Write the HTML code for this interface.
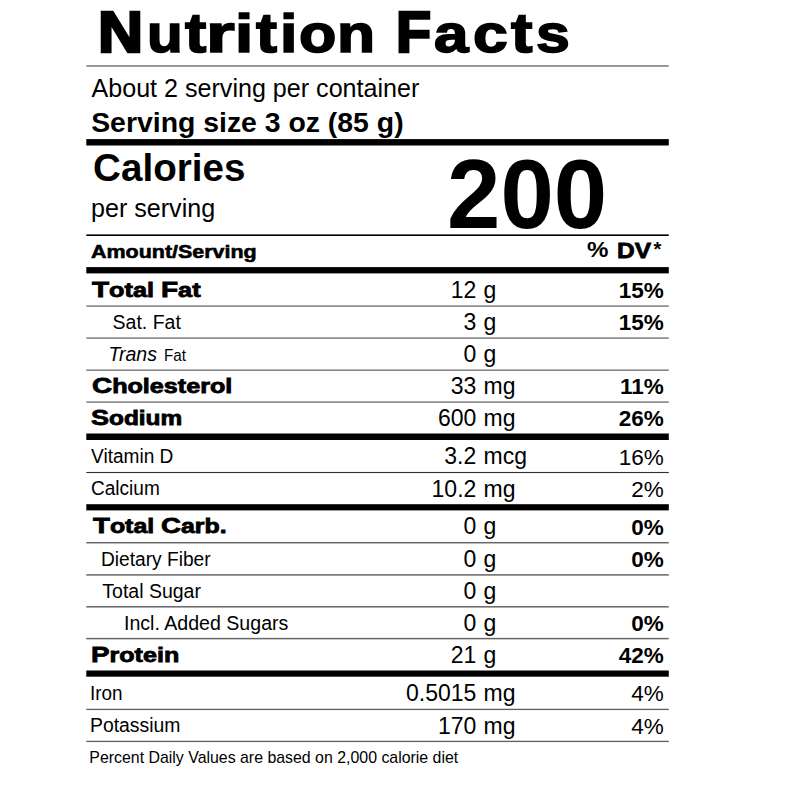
<!DOCTYPE html>
<html><head><meta charset="utf-8"><style>
html,body{margin:0;padding:0;background:#fff;}
body{width:800px;height:800px;position:relative;overflow:hidden;font-family:"Liberation Sans",sans-serif;color:#000;}
.t{position:absolute;line-height:1;white-space:nowrap;}
svg{position:absolute;left:0;top:0;}
</style></head><body>
<svg width="800" height="800" viewBox="0 0 800 800"><rect x="86.3" y="65.1" width="582.5" height="1.7" fill="#878787"/><rect x="86.3" y="139.1" width="582.5" height="6.4" fill="#000"/><rect x="86.3" y="234.4" width="582.5" height="1.6" fill="#000"/><rect x="86.3" y="267.1" width="582.5" height="6.3" fill="#000"/><rect x="86.3" y="305.3" width="582.5" height="1.6" fill="#868686"/><rect x="86.3" y="337.3" width="582.5" height="1.6" fill="#868686"/><rect x="86.3" y="369.4" width="582.5" height="1.6" fill="#868686"/><rect x="86.3" y="401.3" width="582.5" height="1.6" fill="#868686"/><rect x="86.3" y="433.5" width="582.5" height="6.5" fill="#000"/><rect x="86.3" y="471.95" width="582.5" height="1.1" fill="#2e2e2e"/><rect x="86.3" y="504.2" width="582.5" height="6.2" fill="#000"/><rect x="86.3" y="541.95" width="582.5" height="1.5" fill="#666"/><rect x="86.3" y="574.15" width="582.5" height="1.5" fill="#666"/><rect x="86.3" y="606.05" width="582.5" height="1.5" fill="#666"/><rect x="86.3" y="637.85" width="582.5" height="1.5" fill="#666"/><rect x="86.3" y="670.5" width="582.5" height="6.2" fill="#000"/><rect x="86.3" y="708.75" width="582.5" height="1.3" fill="#5e5e5e"/><rect x="86.3" y="740.75" width="582.5" height="1.3" fill="#5e5e5e"/></svg>
<div class="t" style="top:4.87px;font-size:56.5px;font-weight:bold;left:98.24px;transform:scaleX(1.1049);transform-origin:left center;-webkit-text-stroke:2.6px #000;">N</div>
<div class="t" style="top:6.63px;font-size:53.6px;font-weight:bold;left:147.47px;transform:scaleX(1.0909);transform-origin:left center;-webkit-text-stroke:1.6px #000;">u</div>
<div class="t" style="top:6.63px;left:185.00px;font-size:53.6px;font-weight:bold;-webkit-text-stroke:1.6px #000;transform:scale(1.1945,1.05);transform-origin:0 45.37px;">t</div>
<div class="t" style="top:6.63px;font-size:53.6px;font-weight:bold;left:206.41px;transform:scaleX(1.3778);transform-origin:left center;-webkit-text-stroke:1.6px #000;">r</div>
<div class="t" style="top:6.63px;font-size:53.6px;font-weight:bold;left:234.83px;transform:scaleX(1.2222);transform-origin:left center;-webkit-text-stroke:1.6px #000;">i</div>
<div class="t" style="top:6.63px;left:255.79px;font-size:53.6px;font-weight:bold;-webkit-text-stroke:1.6px #000;transform:scale(1.1781,1.05);transform-origin:0 45.37px;">t</div>
<div class="t" style="top:6.63px;font-size:53.6px;font-weight:bold;left:280.00px;transform:scaleX(1.1667);transform-origin:left center;-webkit-text-stroke:1.6px #000;">i</div>
<div class="t" style="top:6.63px;font-size:53.6px;font-weight:bold;left:299.07px;transform:scaleX(1.1405);transform-origin:left center;-webkit-text-stroke:1.6px #000;">o</div>
<div class="t" style="top:6.63px;font-size:53.6px;font-weight:bold;left:337.30px;transform:scaleX(1.1636);transform-origin:left center;-webkit-text-stroke:1.6px #000;">n</div>
<div class="t" style="top:4.87px;font-size:56.5px;font-weight:bold;left:395.96px;transform:scaleX(1.016);transform-origin:left center;-webkit-text-stroke:2.6px #000;">F</div>
<div class="t" style="top:6.63px;font-size:53.6px;font-weight:bold;left:434.13px;transform:scaleX(1.157);transform-origin:left center;-webkit-text-stroke:1.6px #000;">a</div>
<div class="t" style="top:6.63px;font-size:53.6px;font-weight:bold;left:473.14px;transform:scaleX(1.1676);transform-origin:left center;-webkit-text-stroke:1.6px #000;">c</div>
<div class="t" style="top:6.63px;left:511.30px;font-size:53.6px;font-weight:bold;-webkit-text-stroke:1.6px #000;transform:scale(1.2055,1.05);transform-origin:0 45.37px;">t</div>
<div class="t" style="top:6.63px;font-size:53.6px;font-weight:bold;left:536.07px;transform:scaleX(1.1345);transform-origin:left center;-webkit-text-stroke:1.6px #000;">s</div>
<div class="t" style="top:75.95px;font-size:25.1px;left:91.50px;">About 2 serving per container</div>
<div class="t" style="top:107.56px;font-size:28.4px;font-weight:bold;left:91.20px;">Serving size 3 oz (85 g)</div>
<div class="t" style="top:149.13px;font-size:38.6px;font-weight:bold;left:93.10px;">Calories</div>
<div class="t" style="top:195.95px;font-size:25.1px;left:91.00px;">per serving</div>
<div class="t" style="top:144.50px;font-size:98.4px;font-weight:bold;left:447.00px;transform:scaleX(0.976);transform-origin:left center;">200</div>
<div class="t" style="top:242.35px;font-size:19.2px;font-weight:bold;left:91.40px;transform:scaleX(1.118);transform-origin:left center;-webkit-text-stroke:0.6px #000;">Amount/Serving</div>
<div class="t" style="top:239.25px;font-size:22.5px;font-weight:bold;left:587.10px;transform:scaleX(1.07);transform-origin:left center;">%</div>
<div class="t" style="top:239.75px;font-size:21.8px;font-weight:bold;left:616.70px;transform:scaleX(1.124);transform-origin:left center;-webkit-text-stroke:0.8px #000;">DV</div>
<div class="t" style="top:239.47px;font-size:20px;font-weight:bold;left:653.40px;">*</div>
<div class="t" style="top:278.74px;font-size:22.4px;font-weight:bold;left:92.21px;transform:scaleX(1.2504);transform-origin:left center;-webkit-text-stroke:0.8px #000;">T<span style="font-size:20.2px">otal </span>F<span style="font-size:20.2px">at</span></div>
<div class="t" style="top:278.83px;font-size:23.0px;right:323.70px;text-align:right;">12</div>
<div class="t" style="top:278.83px;font-size:23.0px;left:483.50px;">g</div>
<div class="t" style="top:280.05px;font-size:22.5px;font-weight:bold;right:136.20px;text-align:right;">15%</div>
<div class="t" style="top:312.89px;font-size:19.5px;left:112.60px;">Sat. Fat</div>
<div class="t" style="top:311.13px;font-size:23.0px;right:323.70px;text-align:right;">3</div>
<div class="t" style="top:311.13px;font-size:23.0px;left:483.50px;">g</div>
<div class="t" style="top:312.35px;font-size:22.5px;font-weight:bold;right:136.20px;text-align:right;">15%</div>
<div class="t" style="top:345.29px;font-size:19.5px;left:108.50px;"><i>Trans</i></div>
<div class="t" style="top:347.75px;font-size:16.6px;left:163.60px;transform:scaleX(0.92);transform-origin:left center;">Fat</div>
<div class="t" style="top:343.23px;font-size:23.0px;right:323.70px;text-align:right;">0</div>
<div class="t" style="top:343.23px;font-size:23.0px;left:483.50px;">g</div>
<div class="t" style="top:375.14px;font-size:22.4px;font-weight:bold;left:91.78px;transform:scaleX(1.2458);transform-origin:left center;-webkit-text-stroke:0.8px #000;">C<span style="font-size:20.2px">holesterol</span></div>
<div class="t" style="top:375.23px;font-size:23.0px;right:323.70px;text-align:right;">33</div>
<div class="t" style="top:375.23px;font-size:23.0px;left:483.50px;">mg</div>
<div class="t" style="top:376.45px;font-size:22.5px;font-weight:bold;right:136.20px;text-align:right;">11%</div>
<div class="t" style="top:407.14px;font-size:22.4px;font-weight:bold;left:91.30px;transform:scaleX(1.2081);transform-origin:left center;-webkit-text-stroke:0.8px #000;">S<span style="font-size:20.2px">odium</span></div>
<div class="t" style="top:407.23px;font-size:23.0px;right:323.70px;text-align:right;">600</div>
<div class="t" style="top:407.23px;font-size:23.0px;left:483.50px;">mg</div>
<div class="t" style="top:408.45px;font-size:22.5px;font-weight:bold;right:136.20px;text-align:right;">26%</div>
<div class="t" style="top:446.79px;font-size:19.5px;left:90.60px;transform:scaleX(0.979);transform-origin:left center;">Vitamin D</div>
<div class="t" style="top:445.43px;font-size:23.0px;right:323.70px;text-align:right;">3.2</div>
<div class="t" style="top:445.43px;font-size:23.0px;left:483.50px;">mcg</div>
<div class="t" style="top:446.65px;font-size:22.5px;right:136.20px;text-align:right;">16%</div>
<div class="t" style="top:479.09px;font-size:19.5px;left:90.60px;transform:scaleX(0.977);transform-origin:left center;">Calcium</div>
<div class="t" style="top:477.73px;font-size:23.0px;right:323.70px;text-align:right;">10.2</div>
<div class="t" style="top:477.73px;font-size:23.0px;left:483.50px;">mg</div>
<div class="t" style="top:478.95px;font-size:22.5px;right:136.20px;text-align:right;">2%</div>
<div class="t" style="top:515.34px;font-size:22.4px;font-weight:bold;left:92.71px;transform:scaleX(1.2335);transform-origin:left center;-webkit-text-stroke:0.8px #000;">T<span style="font-size:20.2px">otal </span>C<span style="font-size:20.2px">arb.</span></div>
<div class="t" style="top:515.43px;font-size:23.0px;right:323.70px;text-align:right;">0</div>
<div class="t" style="top:515.43px;font-size:23.0px;left:483.50px;">g</div>
<div class="t" style="top:516.65px;font-size:22.5px;font-weight:bold;right:136.20px;text-align:right;">0%</div>
<div class="t" style="top:549.79px;font-size:19.5px;left:100.70px;transform:scaleX(0.982);transform-origin:left center;">Dietary Fiber</div>
<div class="t" style="top:547.83px;font-size:23.0px;right:323.70px;text-align:right;">0</div>
<div class="t" style="top:547.83px;font-size:23.0px;left:483.50px;">g</div>
<div class="t" style="top:549.05px;font-size:22.5px;font-weight:bold;right:136.20px;text-align:right;">0%</div>
<div class="t" style="top:581.99px;font-size:19.5px;left:102.30px;">Total Sugar</div>
<div class="t" style="top:580.03px;font-size:23.0px;right:323.70px;text-align:right;">0</div>
<div class="t" style="top:580.03px;font-size:23.0px;left:483.50px;">g</div>
<div class="t" style="top:613.59px;font-size:19.5px;left:124.30px;transform:scaleX(1.004);transform-origin:left center;">Incl. Added Sugars</div>
<div class="t" style="top:611.83px;font-size:23.0px;right:323.70px;text-align:right;">0</div>
<div class="t" style="top:611.83px;font-size:23.0px;left:483.50px;">g</div>
<div class="t" style="top:613.05px;font-size:22.5px;font-weight:bold;right:136.20px;text-align:right;">0%</div>
<div class="t" style="top:643.74px;font-size:22.4px;font-weight:bold;left:90.76px;transform:scaleX(1.2419);transform-origin:left center;-webkit-text-stroke:0.8px #000;">P<span style="font-size:20.2px">rotein</span></div>
<div class="t" style="top:643.83px;font-size:23.0px;right:323.70px;text-align:right;">21</div>
<div class="t" style="top:643.83px;font-size:23.0px;left:483.50px;">g</div>
<div class="t" style="top:645.05px;font-size:22.5px;font-weight:bold;right:136.20px;text-align:right;">42%</div>
<div class="t" style="top:683.59px;font-size:19.5px;left:89.60px;transform:scaleX(0.97);transform-origin:left center;">Iron</div>
<div class="t" style="top:682.23px;font-size:23.0px;right:323.70px;text-align:right;">0.5015</div>
<div class="t" style="top:682.23px;font-size:23.0px;left:483.50px;">mg</div>
<div class="t" style="top:683.45px;font-size:22.5px;right:136.20px;text-align:right;">4%</div>
<div class="t" style="top:715.89px;font-size:19.5px;left:89.80px;transform:scaleX(0.993);transform-origin:left center;">Potassium</div>
<div class="t" style="top:714.53px;font-size:23.0px;right:323.70px;text-align:right;">170</div>
<div class="t" style="top:714.53px;font-size:23.0px;left:483.50px;">mg</div>
<div class="t" style="top:715.75px;font-size:22.5px;right:136.20px;text-align:right;">4%</div>
<div class="t" style="top:749.64px;font-size:15.9px;left:89.30px;">Percent Daily Values are based on 2,000 calorie diet</div>
</body></html>
